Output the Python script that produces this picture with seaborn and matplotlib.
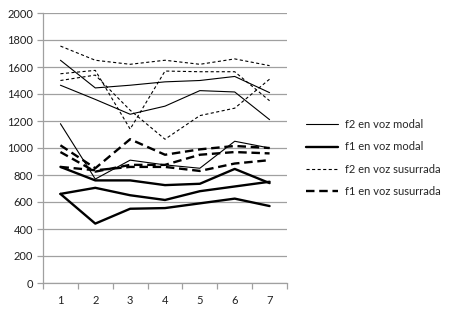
import numpy as np
import pandas as pd
import matplotlib
matplotlib.use('Agg')
import matplotlib.pyplot as plt
from matplotlib.lines import Line2D
import seaborn as sns

# Values (Hz)
points = [1, 2, 3, 4, 5, 6, 7]

f2_modal = [
    [1650, 1445, 1465, 1490, 1500, 1530, 1410],
    [1465, 1360, 1250, 1310, 1425, 1415, 1210],
    [1180, 770, 910, 875, 850, 1050, 1000],
]
f1_modal = [
    [860, 760, 760, 725, 735, 845, 740],
    [660, 705, 650, 615, 680, 715, 750],
    [660, 440, 550, 555, 590, 625, 570],
]
f2_susurrada = [
    [1755, 1650, 1620, 1650, 1620, 1660, 1610],
    [1550, 1575, 1140, 1570, 1565, 1565, 1350],
    [1500, 1540, 1280, 1065, 1240, 1295, 1510],
]
f1_susurrada = [
    [1020, 850, 1065, 950, 990, 1015, 1000],
    [970, 825, 875, 875, 950, 970, 960],
    [860, 835, 860, 860, 830, 885, 910],
]

labels = ['f2 en voz modal', 'f1 en voz modal', 'f2 en voz susurrada', 'f1 en voz susurrada']
groups = [f2_modal, f1_modal, f2_susurrada, f1_susurrada]

# line style per group
styles = {
    'f2 en voz modal': dict(lw=0.8, ls='-'),
    'f1 en voz modal': dict(lw=1.7, ls='-'),
    'f2 en voz susurrada': dict(lw=0.8, ls=(0, (2.8, 2.2))),
    'f1 en voz susurrada': dict(lw=1.7, ls=(0, (3.6, 2.0))),
}

rows = []
for label, group in zip(labels, groups):
    for i, series in enumerate(group):
        for x, y in zip(points, series):
            rows.append({'punto': x, 'Hz': y, 'serie': label, 'hablante': i})
df = pd.DataFrame(rows)

sns.set_style('white')
plt.rcParams['font.family'] = ['Lato', 'DejaVu Sans']

fig = plt.figure(figsize=(4.5, 3.12), dpi=100)
ax = fig.add_axes([43 / 450, 1 - 283 / 312, (287 - 43) / 450, (283 - 13) / 312])

for label in labels:
    sub = df[df['serie'] == label]
    for h, d in sub.groupby('hablante'):
        sns.lineplot(data=d, x='punto', y='Hz', ax=ax, color='black',
                     linewidth=styles[label]['lw'], linestyle=styles[label]['ls'],
                     legend=False, zorder=3)

ax.set_xlim(0.5, 7.5)
ax.set_ylim(0, 2000)
ax.set_yticks(np.arange(0, 2001, 200))
ax.set_xticks(points)
ax.set_xticks(np.arange(0.5, 8, 1), minor=True)
ax.set_xlabel('')
ax.set_ylabel('')

grey = '#a0a0a0'
ax.yaxis.grid(True, color=grey, linewidth=0.9, zorder=0)
ax.xaxis.grid(False)
for side in ['top', 'right']:
    ax.spines[side].set_visible(False)
for side in ['left', 'bottom']:
    ax.spines[side].set_color(grey)
    ax.spines[side].set_linewidth(0.9)

ax.tick_params(axis='y', which='major', direction='out', length=4, width=0.9,
               color=grey, labelsize=8, labelcolor='#202020', pad=3, left=True)
ax.tick_params(axis='x', which='major', length=0, labelsize=8,
               labelcolor='#202020', pad=9)
ax.tick_params(axis='x', which='minor', direction='out', length=4, width=0.9,
               color=grey, bottom=True)

handles = [Line2D([], [], color='black', linewidth=styles[l]['lw'],
                  linestyle=styles[l]['ls']) for l in labels]
fig.legend(handles, labels, loc='center left', bbox_to_anchor=(306 / 450, 1 - 158 / 312),
           frameon=False, fontsize=8, handlelength=2.9, handletextpad=0.6,
           labelspacing=1.0, borderpad=0, borderaxespad=0)

fig.savefig('out.png', dpi=100)
